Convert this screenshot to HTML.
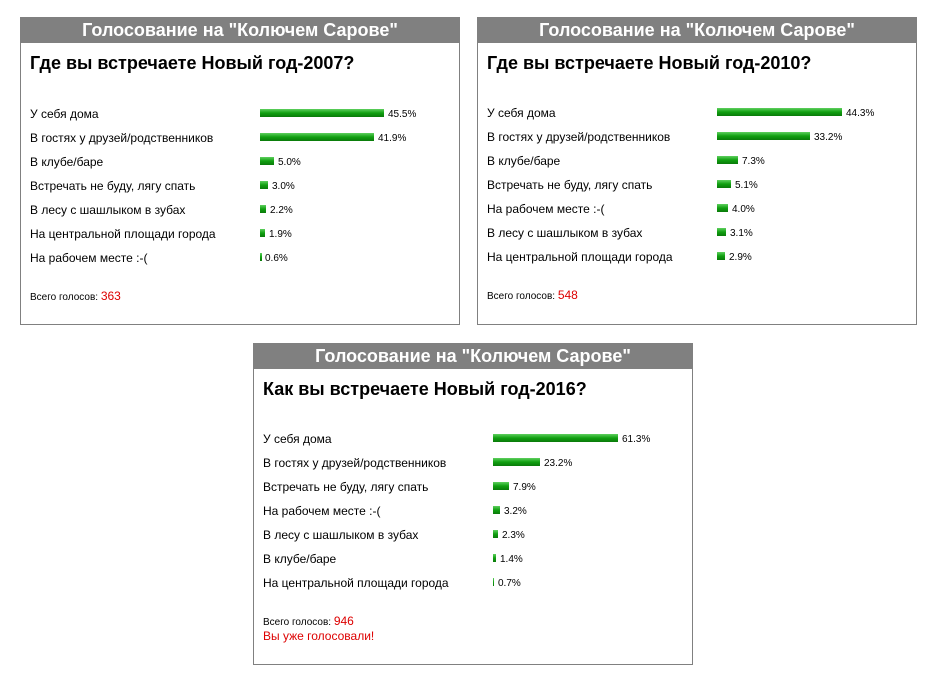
<!DOCTYPE html>
<html><head><meta charset="utf-8"><style>
body{margin:0;width:938px;height:682px;background:#fff;font-family:"Liberation Sans",Arial,sans-serif;position:relative;overflow:hidden}
.p{position:absolute;width:438px;border:1px solid #808080;background:#fff}
.h{height:25px;background:#808080;color:#fff;font-weight:bold;font-size:18px;text-align:center;line-height:25px}
.t{position:absolute;left:9px;top:35px;font-weight:bold;font-size:18px;color:#000}
.r{position:absolute;left:9px;font-size:12px;color:#000;height:14px;line-height:14px;width:420px}
.b{position:absolute;left:230px;top:2px;height:8px;background:linear-gradient(#5fd05f,#11a011 50%,#0a7a0a)}
.v{position:absolute;top:1px;font-size:10px}
.tot{position:absolute;left:9px;font-size:10px;color:#000}
.tot span{color:#d00;font-size:12px}
.red{position:absolute;left:9px;font-size:12px;color:#d00}
</style></head><body>

<div class="p" style="left:20px;top:17px;height:306px">
<div class="h">Голосование на "Колючем Сарове"</div>
<div class="t">Где вы встречаете Новый год-2007?</div>
<div class="r" style="top:89px">У себя дома<div class="b" style="width:124px"></div><div class="v" style="left:358px">45.5%</div></div>
<div class="r" style="top:113px">В гостях у друзей/родственников<div class="b" style="width:114px"></div><div class="v" style="left:348px">41.9%</div></div>
<div class="r" style="top:137px">В клубе/баре<div class="b" style="width:14px"></div><div class="v" style="left:248px">5.0%</div></div>
<div class="r" style="top:161px">Встречать не буду, лягу спать<div class="b" style="width:8px"></div><div class="v" style="left:242px">3.0%</div></div>
<div class="r" style="top:185px">В лесу с шашлыком в зубах<div class="b" style="width:6px"></div><div class="v" style="left:240px">2.2%</div></div>
<div class="r" style="top:209px">На центральной площади города<div class="b" style="width:5px"></div><div class="v" style="left:239px">1.9%</div></div>
<div class="r" style="top:233px">На рабочем месте :-(<div class="b" style="width:2px"></div><div class="v" style="left:235px">0.6%</div></div>
<div class="tot" style="top:271px">Всего голосов: <span>363</span></div>
</div>

<div class="p" style="left:477px;top:17px;height:306px">
<div class="h">Голосование на "Колючем Сарове"</div>
<div class="t">Где вы встречаете Новый год-2010?</div>
<div class="r" style="top:88px">У себя дома<div class="b" style="width:125px"></div><div class="v" style="left:359px">44.3%</div></div>
<div class="r" style="top:112px">В гостях у друзей/родственников<div class="b" style="width:93px"></div><div class="v" style="left:327px">33.2%</div></div>
<div class="r" style="top:136px">В клубе/баре<div class="b" style="width:21px"></div><div class="v" style="left:255px">7.3%</div></div>
<div class="r" style="top:160px">Встречать не буду, лягу спать<div class="b" style="width:14px"></div><div class="v" style="left:248px">5.1%</div></div>
<div class="r" style="top:184px">На рабочем месте :-(<div class="b" style="width:11px"></div><div class="v" style="left:245px">4.0%</div></div>
<div class="r" style="top:208px">В лесу с шашлыком в зубах<div class="b" style="width:9px"></div><div class="v" style="left:243px">3.1%</div></div>
<div class="r" style="top:232px">На центральной площади города<div class="b" style="width:8px"></div><div class="v" style="left:242px">2.9%</div></div>
<div class="tot" style="top:270px">Всего голосов: <span>548</span></div>
</div>

<div class="p" style="left:253px;top:343px;height:320px">
<div class="h">Голосование на "Колючем Сарове"</div>
<div class="t">Как вы встречаете Новый год-2016?</div>
<div class="r" style="top:88px">У себя дома<div class="b" style="width:125px"></div><div class="v" style="left:359px">61.3%</div></div>
<div class="r" style="top:112px">В гостях у друзей/родственников<div class="b" style="width:47px"></div><div class="v" style="left:281px">23.2%</div></div>
<div class="r" style="top:136px">Встречать не буду, лягу спать<div class="b" style="width:16px"></div><div class="v" style="left:250px">7.9%</div></div>
<div class="r" style="top:160px">На рабочем месте :-(<div class="b" style="width:7px"></div><div class="v" style="left:241px">3.2%</div></div>
<div class="r" style="top:184px">В лесу с шашлыком в зубах<div class="b" style="width:5px"></div><div class="v" style="left:239px">2.3%</div></div>
<div class="r" style="top:208px">В клубе/баре<div class="b" style="width:3px"></div><div class="v" style="left:237px">1.4%</div></div>
<div class="r" style="top:232px">На центральной площади города<div class="b" style="width:1px"></div><div class="v" style="left:235px">0.7%</div></div>
<div class="tot" style="top:270px">Всего голосов: <span>946</span></div>
<div class="red" style="top:285px">Вы уже голосовали!</div>
</div>

</body></html>
